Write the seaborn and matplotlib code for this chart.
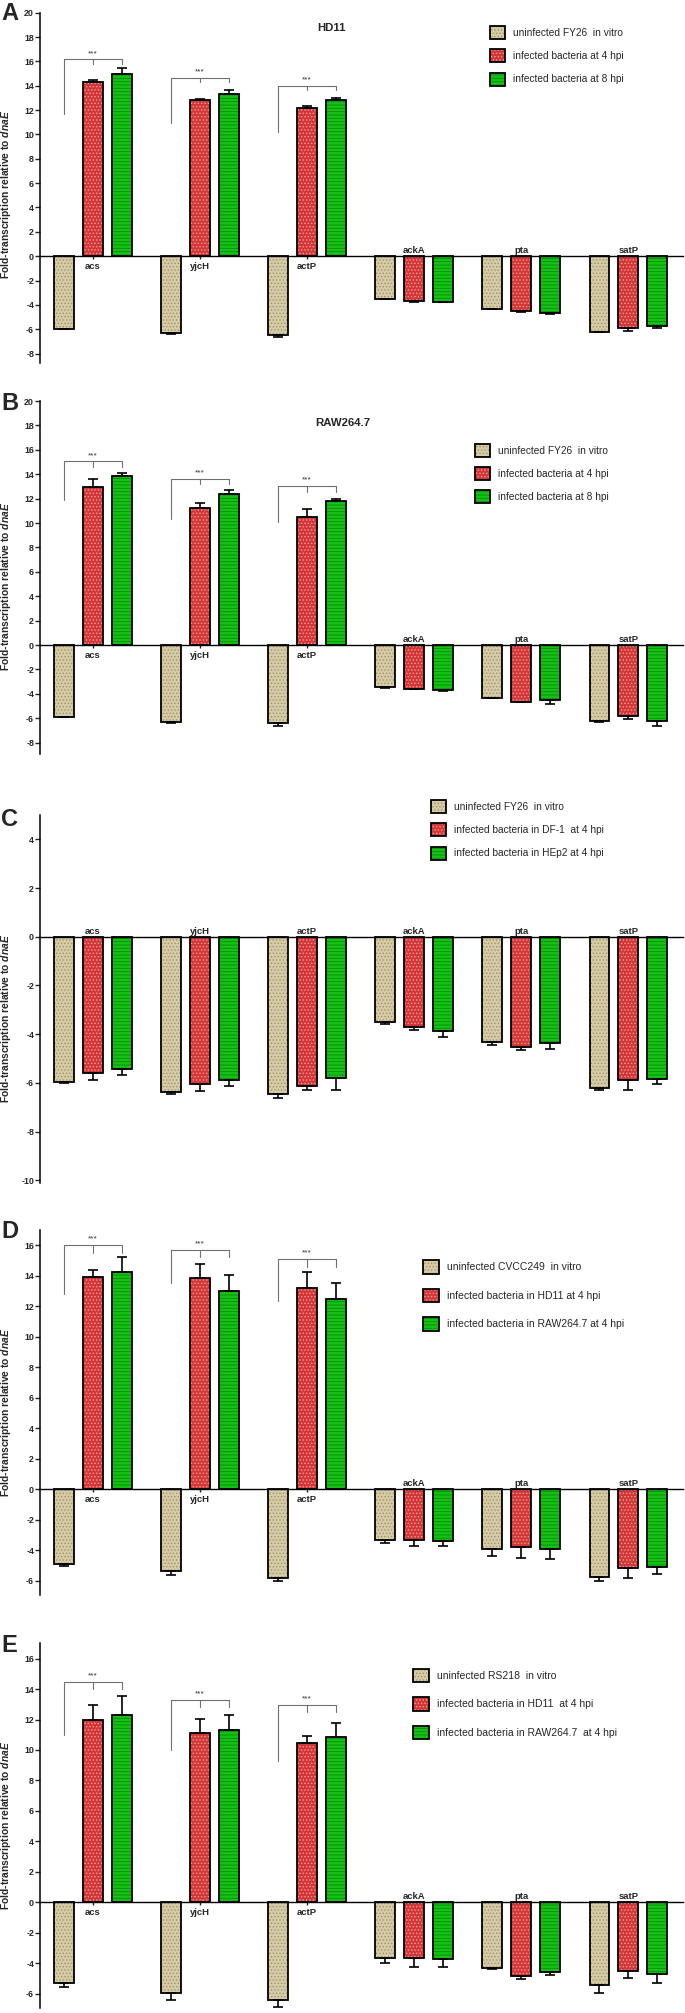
import pandas as pd
import matplotlib
matplotlib.use("Agg")
import matplotlib.pyplot as plt
import matplotlib.patches as mpatches
from matplotlib.container import BarContainer
import seaborn as sns

sns.set_style("ticks")
plt.rcParams['font.family'] = ['Liberation Sans', 'DejaVu Sans']
plt.rcParams['mathtext.fontset'] = 'custom'
plt.rcParams['mathtext.it'] = 'Liberation Sans:italic:bold'
plt.rcParams['mathtext.rm'] = 'Liberation Sans:bold'
plt.rcParams['hatch.linewidth'] = 0.6

# --- data (fold-transcription relative to dnaE) ---
genes = ['acs', 'yjcH', 'actP', 'ackA', 'pta', 'satP']

# A: HD11
A_ctrl = [-5.95, -6.35, -6.45, -3.50, -4.33, -6.21]
A_4h = [14.27, 12.85, 12.14, -3.69, -4.51, -5.90]
A_8h = [14.95, 13.30, 12.85, -3.74, -4.64, -5.74]
A_ctrl_err = [0.05, 0.05, 0.15, 0.05, 0.05, 0.05]
A_4h_err = [0.19, 0.07, 0.20, 0.07, 0.05, 0.25]
A_8h_err = [0.50, 0.38, 0.15, 0.05, 0.10, 0.20]
A_labels = ['uninfected FY26  in vitro', 'infected bacteria at 4 hpi', 'infected bacteria at 8 hpi']
A_brk_top = [16.16, 14.66, 14.0]
A_brk_low = [11.7, 10.9, 10.2]

# B: RAW264.7
B_ctrl = [-5.88, -6.34, -6.43, -3.47, -4.32, -6.23]
B_4h = [12.95, 11.27, 10.48, -3.57, -4.63, -5.79]
B_8h = [13.82, 12.37, 11.84, -3.68, -4.50, -6.20]
B_ctrl_err = [0.05, 0.05, 0.18, 0.05, 0.05, 0.05]
B_4h_err = [0.65, 0.40, 0.68, 0.05, 0.08, 0.25]
B_8h_err = [0.27, 0.35, 0.14, 0.08, 0.35, 0.40]
B_labels = ['uninfected FY26  in vitro', 'infected bacteria at 4 hpi', 'infected bacteria at 8 hpi']
B_brk_top = [15.05, 13.63, 13.03]
B_brk_low = [11.9, 10.3, 10.1]

# C: DF-1 / HEp2
C_ctrl = [-5.95, -6.36, -6.45, -3.50, -4.33, -6.22]
C_df1 = [-5.60, -6.03, -6.12, -3.70, -4.52, -5.88]
C_hep2 = [-5.44, -5.88, -5.78, -3.85, -4.37, -5.84]
C_ctrl_err = [0.06, 0.09, 0.18, 0.09, 0.10, 0.07]
C_df1_err = [0.28, 0.30, 0.17, 0.12, 0.11, 0.40]
C_hep2_err = [0.23, 0.24, 0.50, 0.25, 0.25, 0.20]
C_labels = ['uninfected FY26  in vitro', 'infected bacteria in DF-1  at 4 hpi',
            'infected bacteria in HEp2 at 4 hpi']

# D: CVCC249
D_ctrl = [-4.93, -5.33, -5.79, -3.34, -3.93, -5.77]
D_hd11 = [13.95, 13.84, 13.18, -3.30, -3.80, -5.18]
D_raw = [14.27, 13.03, 12.50, -3.39, -3.93, -5.07]
D_ctrl_err = [0.07, 0.28, 0.20, 0.15, 0.44, 0.22]
D_hd11_err = [0.43, 0.92, 1.05, 0.40, 0.72, 0.61]
D_raw_err = [0.95, 1.03, 1.05, 0.33, 0.66, 0.48]
D_labels = ['uninfected CVCC249  in vitro', 'infected bacteria in HD11 at 4 hpi',
            'infected bacteria in RAW264.7 at 4 hpi']
D_brk_top = [16.0, 15.7, 15.1]
D_brk_low = [12.8, 13.5, 12.37]

# E: RS218
E_ctrl = [-5.26, -5.97, -6.42, -3.67, -4.28, -5.42]
E_hd11 = [11.94, 11.14, 10.48, -3.62, -4.80, -4.50]
E_raw = [12.27, 11.30, 10.85, -3.71, -4.59, -4.72]
E_ctrl_err = [0.26, 0.44, 0.46, 0.33, 0.10, 0.55]
E_hd11_err = [1.00, 0.92, 0.42, 0.63, 0.24, 0.43]
E_raw_err = [1.25, 0.98, 0.94, 0.55, 0.17, 0.54]
E_labels = ['uninfected RS218  in vitro', 'infected bacteria in HD11  at 4 hpi',
            'infected bacteria in RAW264.7  at 4 hpi']
E_brk_top = [14.48, 13.3, 12.93]
E_brk_low = [10.96, 9.98, 9.28]

# --- styling ---
fill_colors = ['#d5cba7', '#d43636', '#14c214']
hatch_colors = ['#a39566', '#f09c9c', '#0a8a0a']
hatches = ['.....', '.....', '-----']

W, H = 685, 2013
fig = plt.figure(figsize=(W / 100, H / 100), dpi=100)


def center(p):
    return p.get_x() + p.get_width() / 2


def draw_panel(rect_px, ylim, yticks, series, errs, labels, letter, letter_y,
               title=None, title_xy=None, leg_xy=(0, 0), leg_fs=7.3, leg_space=1.05,
               brk_top=None, brk_low=None, brk_arm=0.4, ylab_y=0.5):
    top_px, bot_px = rect_px
    ax = fig.add_axes([40 / W, 1 - bot_px / H, 643 / W, (bot_px - top_px) / H])

    df = pd.DataFrame({
        'gene': genes * 3,
        'cond': sum([[lab] * len(genes) for lab in labels], []),
        'value': series[0] + series[1] + series[2],
    })
    sns.barplot(data=df, x='gene', y='value', hue='cond', order=genes, hue_order=labels,
                palette=fill_colors, saturation=1, width=0.81, gap=0.31,
                errorbar=None, legend=False, ax=ax, zorder=2)

    bars = [c for c in ax.containers if isinstance(c, BarContainer)]
    for h, cont in enumerate(bars):
        for i, p in enumerate(cont.patches):
            p.set_facecolor(fill_colors[h])
            p.set_edgecolor(hatch_colors[h])
            p.set_hatch(hatches[h])
            p.set_linewidth(0)
            ax.add_patch(mpatches.Rectangle(p.get_xy(), p.get_width(), p.get_height(),
                                            fill=False, ec='black', lw=1.3, zorder=3))
            v = series[h][i]
            e = errs[h][i]
            yerr = [[0], [e]] if v > 0 else [[e], [0]]
            ax.errorbar(center(p), v, yerr=yerr, fmt='none',
                        ecolor='black', elinewidth=1.2, capsize=3.4, capthick=1.2, zorder=4)

    # significance brackets
    if brk_top is not None:
        for i in range(3):
            x0 = center(bars[0].patches[i])
            xm = center(bars[1].patches[i])
            x1 = center(bars[2].patches[i])
            t = brk_top[i]
            ax.plot([x0, x0, x1, x1], [brk_low[i], t, t, t - brk_arm], color='#707070', lw=0.8, zorder=1)
            ax.plot([xm, xm], [t, t - brk_arm], color='#707070', lw=0.8, zorder=1)
            ax.annotate('***', (xm, t), xytext=(0, 3.2), textcoords='offset points',
                        ha='center', va='baseline', fontsize=6, color='#333333')

    # gene labels near zero line
    for i, g in enumerate(genes):
        below = series[1][i] > 0
        ax.annotate(g, (i, 0), xytext=(0, -7.2 if below else 4.0), textcoords='offset points',
                    ha='center', va='center', fontsize=6.8, fontweight='bold', zorder=5)

    ax.set_ylim(*ylim)
    ax.set_xlim(-0.495, 5.51)
    ax.set_yticks(yticks)
    ax.set_yticklabels([str(t) for t in yticks], fontsize=6.4, fontweight='bold')
    ax.tick_params(axis='y', direction='out', length=3.5, width=1, pad=0.8)
    ax.tick_params(axis='x', direction='out', length=2.2, width=1, labelbottom=False)
    ax.spines['bottom'].set_position(('data', 0))
    ax.spines['bottom'].set_linewidth(1)
    ax.spines['left'].set_linewidth(1.1)
    for s in ['top', 'right']:
        ax.spines[s].set_visible(False)
    for s in ['bottom', 'left']:
        ax.spines[s].set_color('black')
    ax.set_xlabel('')
    ax.set_ylabel(r'Fold-transcription relative to $\it{dnaE}$', fontsize=7.4, fontweight='bold')
    ax.yaxis.set_label_coords(-27 / 643, ylab_y)
    ax.patch.set_alpha(0)

    if title is not None:
        fig.text(title_xy[0] / W, 1 - title_xy[1] / H, title, ha='center', va='center',
                 fontsize=8.2, fontweight='bold')
    fig.text(1 / W, 1 - letter_y / H, letter, ha='left', va='center', fontsize=17, fontweight='bold')

    handles = [(mpatches.Patch(facecolor=fill_colors[h], edgecolor=hatch_colors[h], hatch=hatches[h], lw=0),
                mpatches.Patch(fill=False, edgecolor='black', lw=1.3)) for h in range(3)]
    ax.legend(handles, labels, loc='upper left', bbox_to_anchor=(leg_xy[0] / W, 1 - leg_xy[1] / H),
              bbox_transform=fig.transFigure, frameon=False, borderpad=0, borderaxespad=0,
              fontsize=leg_fs, handlelength=1.5, handleheight=1.6, handletextpad=0.8,
              labelspacing=leg_space)
    return ax


draw_panel((12.7, 363.3), (-8.8, 20), list(range(-8, 21, 2)),
           [A_ctrl, A_4h, A_8h], [A_ctrl_err, A_4h_err, A_8h_err], A_labels, 'A', 14,
           title='HD11', title_xy=(331, 28.3), leg_xy=(490, 26.3), leg_fs=7.3, leg_space=1.0,
           brk_top=A_brk_top, brk_low=A_brk_low, brk_arm=0.35, ylab_y=0.481)

draw_panel((401, 753.6), (-8.9, 20), list(range(-8, 21, 2)),
           [B_ctrl, B_4h, B_8h], [B_ctrl_err, B_4h_err, B_8h_err], B_labels, 'B', 404,
           title='RAW264.7', title_xy=(343, 422.7), leg_xy=(475, 443.7), leg_fs=7.3, leg_space=1.0,
           brk_top=B_brk_top, brk_low=B_brk_low, brk_arm=0.45, ylab_y=0.475)

draw_panel((815, 1182.7), (-10.1, 5.0), list(range(-10, 5, 2)),
           [C_ctrl, C_df1, C_hep2], [C_ctrl_err, C_df1_err, C_hep2_err], C_labels, 'C', 820,
           leg_xy=(431, 800.3), leg_fs=7.3, leg_space=1.0, ylab_y=0.448)

draw_panel((1230, 1595.3), (-6.95, 17), list(range(-6, 17, 2)),
           [D_ctrl, D_hd11, D_raw], [D_ctrl_err, D_hd11_err, D_raw_err], D_labels, 'D', 1231,
           leg_xy=(423, 1260.3), leg_fs=7.5, leg_space=1.45,
           brk_top=D_brk_top, brk_low=D_brk_low, brk_arm=0.5, ylab_y=0.5)

draw_panel((1643.3, 2008.3), (-6.95, 17), list(range(-6, 17, 2)),
           [E_ctrl, E_hd11, E_raw], [E_ctrl_err, E_hd11_err, E_raw_err], E_labels, 'E', 1645,
           leg_xy=(413, 1668.7), leg_fs=7.5, leg_space=1.45,
           brk_top=E_brk_top, brk_low=E_brk_low, brk_arm=0.45, ylab_y=0.5)

fig.savefig("out.png", dpi=100)
